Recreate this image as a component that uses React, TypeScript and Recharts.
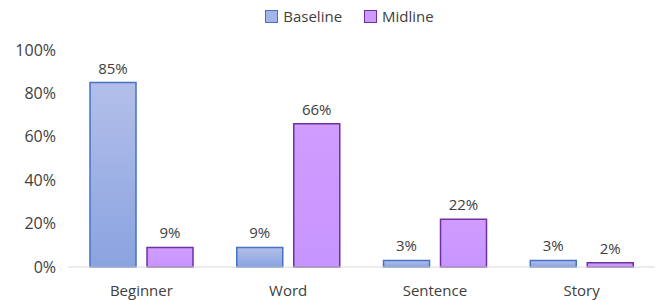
import { BarChart, Bar, XAxis, YAxis, Legend, LabelList } from 'recharts';

const categories = ['Beginner', 'Word', 'Sentence', 'Story'];
const baseline = [85, 9, 3, 3];
const midline = [9, 66, 22, 2];
const yTicks = [0, 20, 40, 60, 80, 100];

const data = categories.map((name, i) => ({ name, Baseline: baseline[i], Midline: midline[i] }));

const font = '"Open Sans", sans-serif';
const textColor = '#404040';

const legendItems = [
  { name: 'Baseline', fill: '#a3b5e8', stroke: '#4472c4' },
  { name: 'Midline', fill: '#cc99ff', stroke: '#7030a0' },
];

function LegendContent() {
  return (
    <div style={{ display: 'flex', justifyContent: 'center', gap: 22, fontSize: 15, color: textColor, fontFamily: font }}>
      {legendItems.map((it) => (
        <div key={it.name} style={{ display: 'flex', alignItems: 'center', gap: 5 }}>
          <span style={{ width: 11, height: 11, background: it.fill, border: `1.5px solid ${it.stroke}`, display: 'inline-block' }} />
          <span>{it.name}</span>
        </div>
      ))}
    </div>
  );
}

export default function App() {
  return (
    <div style={{ position: 'absolute', left: 0, top: 0, background: '#fff' }}>
      <BarChart
        width={659}
        height={300}
        data={data}
        margin={{ top: 30, right: 4, bottom: 0, left: 0 }}
        barCategoryGap="15%"
        barGap={11}
        style={{ fontFamily: font }}
      >
        <defs>
          <linearGradient id="blueFill" x1="0" y1="0" x2="0" y2="1">
            <stop offset="0%" stopColor="#b3bfea" />
            <stop offset="100%" stopColor="#8aa3e0" />
          </linearGradient>
          <linearGradient id="purpleFill" x1="0" y1="0" x2="0" y2="1">
            <stop offset="0%" stopColor="#d09cff" />
            <stop offset="100%" stopColor="#c795ff" />
          </linearGradient>
        </defs>
        <XAxis
          dataKey="name"
          height={33}
          tickLine={false}
          axisLine={{ stroke: '#d9d9d9' }}
          tick={{ fill: textColor, fontSize: 15 }}
          tickMargin={12}
        />
        <YAxis
          width={68}
          domain={[0, 100]}
          ticks={yTicks}
          tickFormatter={(v) => `${v}%`}
          axisLine={false}
          tickLine={false}
          tickSize={0}
          tickMargin={12}
          tick={{ fill: textColor, fontSize: 16 }}
        />
        <Legend
          verticalAlign="top"
          align="center"
          content={<LegendContent />}
          wrapperStyle={{ top: 6, left: 22 }}
        />
        <Bar dataKey="Baseline" fill="url(#blueFill)" stroke="#4472c4" strokeWidth={1.5} isAnimationActive={false}>
          <LabelList dataKey="Baseline" position="top" offset={9} formatter={(v: number) => `${v}%`} fill={textColor} fontSize={15} />
        </Bar>
        <Bar dataKey="Midline" fill="url(#purpleFill)" stroke="#7030a0" strokeWidth={1.5} isAnimationActive={false}>
          <LabelList dataKey="Midline" position="top" offset={9} formatter={(v: number) => `${v}%`} fill={textColor} fontSize={15} />
        </Bar>
      </BarChart>
    </div>
  );
}
